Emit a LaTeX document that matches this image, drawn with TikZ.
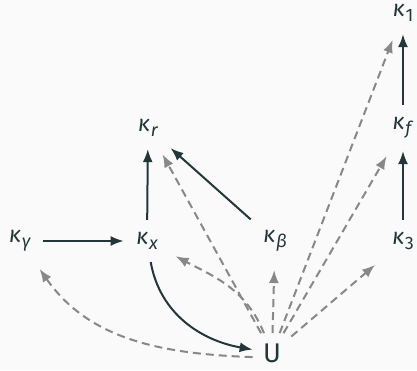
\documentclass[tikz,border=0pt]{standalone}
\usepackage{fontspec}
\setmainfont{Fira Sans}
\usetikzlibrary{arrows.meta}
\definecolor{fg}{HTML}{23373B}
\definecolor{dg}{HTML}{888888}
\definecolor{bg}{HTML}{FAFAFA}
\newcommand\ksub[1]{\textit{κ}\kern0.3pt\raisebox{-2.5pt}{\fontsize{9}{9}\selectfont #1}}
\begin{document}
\begin{tikzpicture}[x=0.5pt,y=0.5pt,
  var/.style={text=fg, inner sep=6pt, font=\fontsize{11.5}{13}\selectfont},
  bigvar/.style={text=fg, inner sep=5pt, font=\fontsize{13.5}{16}\selectfont},
  solidarr/.style={draw=fg, line width=1pt, -{Latex[length=6.5pt,width=5pt]}},
  dasharr/.style={draw=dg, line width=1pt, dash pattern=on 4pt off 2.5pt, -{Latex[length=6.5pt,width=5pt]}, shorten >=3pt}]
\useasboundingbox (0,0) rectangle (417,370);
\fill[bg] (0,0) rectangle (417,370);
\node[var] (k1) at (403,357) {\ksub{1}};
\node[var] (kr) at (148,242) {\ksub{\textit{r}}};
\node[var] (kf) at (403,242) {\ksub{\textit{f}}};
\node[var] (kg) at (20,129) {\ksub{\textit{γ}}};
\node[var] (kx) at (147,129) {\ksub{\textit{x}}};
\node[var] (kb) at (275,129) {\ksub{\textit{β}}};
\node[var] (k3) at (403,129) {\ksub{3}};
\node[bigvar] (U) at (272,17) {U};
% solid arrows
\draw[solidarr] (k3) -- (kf);
\draw[solidarr] (kf) -- (k1);
\draw[solidarr] (kx) -- (kr);
\draw[solidarr] (kb) -- (kr);
\draw[solidarr] (kg) -- (kx);
\draw[solidarr] (kx) to[out=-80,in=170] (U);
% dashed arrows
\draw[dasharr] (U.192) to[out=178,in=-55] (kg);
\draw[dasharr] (U) to[out=112,in=-28] (kx);
\draw[dasharr] (U) -- (kr);
\draw[dasharr] (U) -- (kb);
\draw[dasharr] (U) -- (k1);
\draw[dasharr] (U) -- (kf);
\draw[dasharr] (U) -- (k3);
\end{tikzpicture}
\end{document}
